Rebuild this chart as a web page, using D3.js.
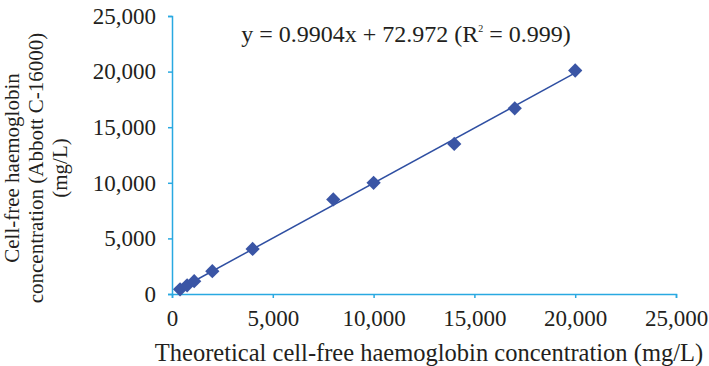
<!DOCTYPE html>
<html>
<head>
<meta charset="utf-8">
<script src="https://cdn.jsdelivr.net/npm/d3@7"></script>
<style>
  body { margin: 0; background: #fff; }
  text { font-family: "Liberation Serif", "Times New Roman", serif; fill: #231f20; }
</style>
</head>
<body>
<div id="chart"></div>
<script>
// data
const theoretical = [400, 750, 1100, 2000, 4000, 8000, 10000, 14000, 17000, 20000];
const measured    = [420, 780, 1150, 2050, 4050, 8500, 10000, 13500, 16700, 20100];
const xTicks = [0, 5000, 10000, 15000, 20000, 25000];
const yTicks = [0, 5000, 10000, 15000, 20000, 25000];
const slope = 0.9904, intercept = 72.972;

const margin = {top: 16, right: 33, bottom: 72, left: 172},
    width = 709 - margin.left - margin.right,
    height = 366 - margin.top - margin.bottom;

const svg = d3.select("#chart")
    .append("svg")
    .attr("width", 709)
    .attr("height", 366);

const g = svg.append("g")
    .attr("transform", `translate(${margin.left},${margin.top})`);

const x = d3.scaleLinear().domain([0, 25000]).range([0, width]);
const y = d3.scaleLinear().domain([0, 25000]).range([height, 0]);

const fmt = d3.format(",");
const axisColor = "#29a9e1";

// x axis
const xAxis = g.append("g")
    .attr("transform", `translate(0, ${height})`)
    .call(d3.axisBottom(x).tickValues(xTicks).tickFormat(fmt).tickSize(4).tickPadding(12));
// y axis
const yAxis = g.append("g")
    .call(d3.axisLeft(y).tickValues(yTicks).tickFormat(fmt).tickSize(4).tickPadding(12));

[xAxis, yAxis].forEach(function(a) {
    a.attr("font-family", '"Liberation Serif", serif').attr("font-size", 23);
    a.select(".domain").attr("stroke", axisColor).attr("stroke-width", 1.5);
    a.selectAll(".tick line").attr("stroke", axisColor).attr("stroke-width", 1.5);
    a.selectAll(".tick text").attr("fill", "#231f20");
});

// trend line
const xmin = d3.min(theoretical), xmax = d3.max(theoretical);
g.append("path")
    .datum([xmin, xmax])
    .attr("fill", "none")
    .attr("stroke", "#2f4fa2")
    .attr("stroke-width", 1.5)
    .attr("d", d3.line()
        .x(function(d) { return x(d) })
        .y(function(d) { return y(slope * d + intercept) })
    );

// points
const diamond = d3.symbol().type(d3.symbolDiamond2).size(130);
g.selectAll(".pt")
    .data(theoretical)
    .enter()
    .append("path")
    .attr("class", "pt")
    .attr("d", diamond)
    .attr("transform", function(d, i) { return `translate(${x(d)},${y(measured[i])})`; })
    .attr("fill", "#3a55a5");

// equation
const eq = svg.append("text")
    .attr("x", 406)
    .attr("y", 42)
    .attr("text-anchor", "middle")
    .style("font-size", "24px");
eq.append("tspan").text(`y = ${slope}x + ${intercept} (R`);
eq.append("tspan").attr("dy", -10).style("font-size", "10px").text("2");
eq.append("tspan").attr("dy", 10).text(" = 0.999)");

// axis titles
svg.append("text")
    .attr("x", margin.left + width / 2 + 5)
    .attr("y", 361)
    .attr("text-anchor", "middle")
    .style("font-size", "24.5px")
    .text("Theoretical cell-free haemoglobin concentration (mg/L)");

const yTitle = ["Cell-free haemoglobin", "concentration (Abbott C-16000)", "(mg/L)"];
svg.append("g")
    .attr("transform", "translate(0, 168) rotate(-90)")
    .selectAll("text")
    .data(yTitle)
    .enter()
    .append("text")
    .attr("x", 0)
    .attr("y", function(d, i) { return 19 + i * 24; })
    .attr("text-anchor", "middle")
    .style("font-size", "21px")
    .text(function(d) { return d; });
</script>
</body>
</html>
